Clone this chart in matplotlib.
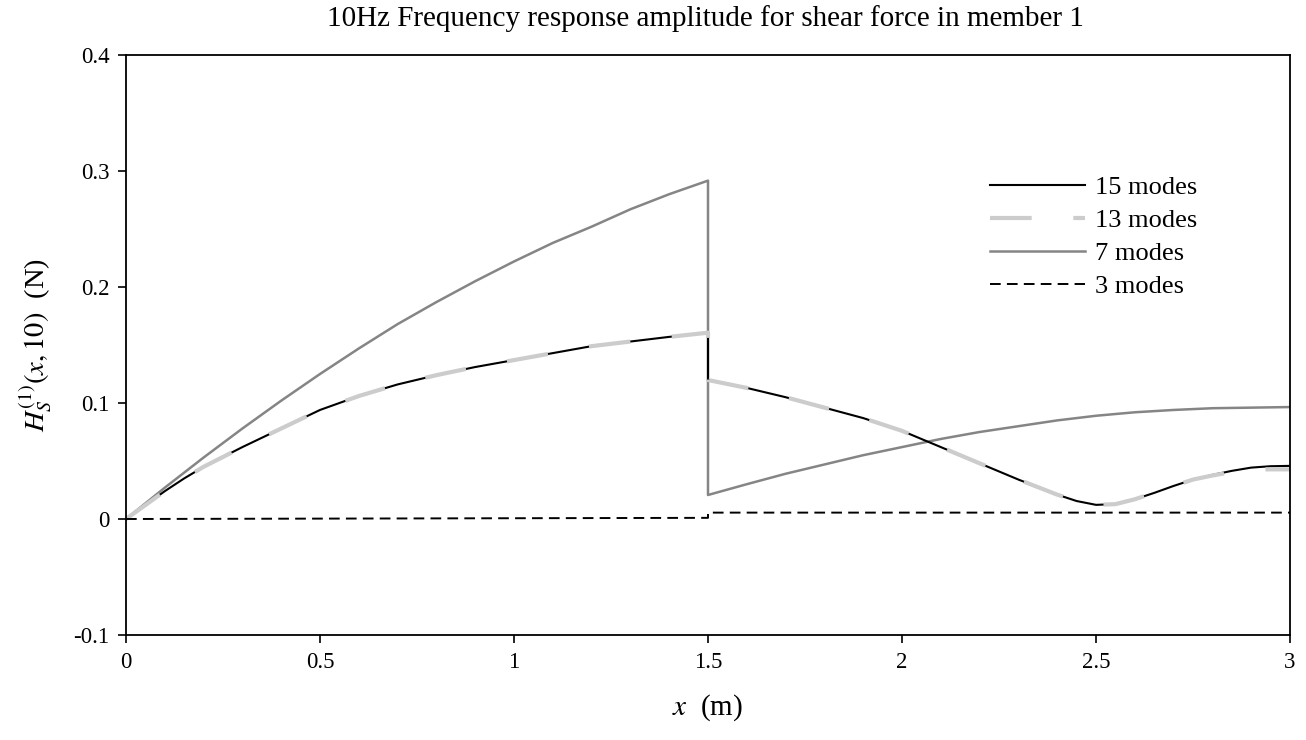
import numpy as np
import matplotlib.pyplot as plt

plt.rcParams['font.family'] = ['Liberation Serif', 'DejaVu Serif']
plt.rcParams['mathtext.fontset'] = 'stix'

# x positions (member split at x = 1.5 m)
x_left = [0.0, 0.05, 0.1, 0.15, 0.2, 0.3, 0.4, 0.5, 0.6, 0.7, 0.8, 0.9, 1.0,
          1.1, 1.2, 1.3, 1.4, 1.5]
x_right = [1.5, 1.6, 1.7, 1.8, 1.9, 2.0, 2.1, 2.2, 2.3, 2.4, 2.45, 2.5, 2.55,
           2.6, 2.65, 2.7, 2.75, 2.8, 2.85, 2.9, 2.95, 3.0]
x_right7 = [1.5, 1.6, 1.7, 1.8, 1.9, 2.0, 2.1, 2.2, 2.3, 2.4, 2.5, 2.6, 2.7,
            2.8, 2.9, 3.0]

# 15 modes
h15_left = [0.0, 0.012, 0.024, 0.035, 0.045, 0.062, 0.078, 0.094, 0.106, 0.116,
            0.124, 0.131, 0.137, 0.143, 0.149, 0.153, 0.157, 0.1606]
h15_right = [0.1198, 0.113, 0.105, 0.096, 0.087, 0.076, 0.062, 0.048, 0.034,
             0.021, 0.0155, 0.0122, 0.0128, 0.017, 0.0225, 0.0285, 0.034,
             0.038, 0.0415, 0.0443, 0.0455, 0.0458]

# 13 modes
h13_left = [0.0, 0.012, 0.024, 0.035, 0.045, 0.062, 0.078, 0.094, 0.106, 0.116,
            0.124, 0.131, 0.137, 0.143, 0.149, 0.153, 0.157, 0.1606]
h13_right = [0.1198, 0.113, 0.105, 0.096, 0.087, 0.076, 0.062, 0.048, 0.034,
             0.021, 0.0155, 0.0122, 0.0128, 0.017, 0.0225, 0.0285, 0.034,
             0.0375, 0.0405, 0.0425, 0.0428, 0.0428]

# 7 modes
h7_left = [0.0, 0.0135, 0.027, 0.040, 0.053, 0.078, 0.102, 0.125, 0.147, 0.168,
           0.187, 0.205, 0.222, 0.238, 0.252, 0.267, 0.280, 0.2917]
h7_right = [0.0207, 0.030, 0.039, 0.047, 0.055, 0.062, 0.069, 0.075, 0.080,
            0.085, 0.089, 0.092, 0.094, 0.0955, 0.096, 0.0965]

# 3 modes
x3 = [0.0, 1.5, 1.5, 3.0]
h3 = [0.0, 0.001, 0.0055, 0.0055]

x_ticks = [0, 0.5, 1, 1.5, 2, 2.5, 3]
x_tick_labels = ['0', '0.5', '1', '1.5', '2', '2.5', '3']
y_ticks = [-0.1, 0, 0.1, 0.2, 0.3, 0.4]
y_tick_labels = ['-0.1', '0', '0.1', '0.2', '0.3', '0.4']

fig = plt.figure(figsize=(13.06, 7.4), dpi=100)
ax = fig.add_axes([126 / 1306, 105 / 740, 1164 / 1306, 580 / 740])

l7, = ax.plot(x_left + x_right7, h7_left + h7_right, color='#858585', lw=1.8,
              label='7 modes')
l15, = ax.plot(x_left + x_right, h15_left + h15_right, color='black', lw=1.5,
               label='15 modes')
l13, = ax.plot(x_left + x_right, h13_left + h13_right, color='#cccccc', lw=3.0,
               dashes=(10, 10), label='13 modes')
l3, = ax.plot(x3, h3, color='black', lw=1.4, dashes=(5.5, 3.2), label='3 modes')

ax.set_xlim(0, 3)
ax.set_ylim(-0.1, 0.4)
ax.set_xticks(x_ticks)
ax.set_xticklabels(x_tick_labels)
ax.set_yticks(y_ticks)
ax.set_yticklabels(y_tick_labels)
ax.tick_params(direction='out', length=6, width=1.2, labelsize=16.5, pad=6)
for s in ax.spines.values():
    s.set_linewidth(1.3)

ax.set_xlabel(r'$x$  (m)', fontsize=21, labelpad=14)
ax.set_ylabel(r'$H_S^{(1)}(x,10)$  (N)', fontsize=20.5, labelpad=14)
fig.text(705 / 1306, 1 - 19 / 740,
         '10Hz Frequency response amplitude for shear force in member 1',
         fontsize=21, ha='center', va='center')

ax.legend(handles=[l15, l13, l7, l3], loc='upper left',
          bbox_to_anchor=(990 / 1306, 1 - 176 / 740),
          bbox_transform=fig.transFigure, frameon=False, fontsize=19,
          borderpad=0, borderaxespad=0, handlelength=3.6,
          handletextpad=0.38, labelspacing=0.36)

fig.savefig('out.png', dpi=100)
